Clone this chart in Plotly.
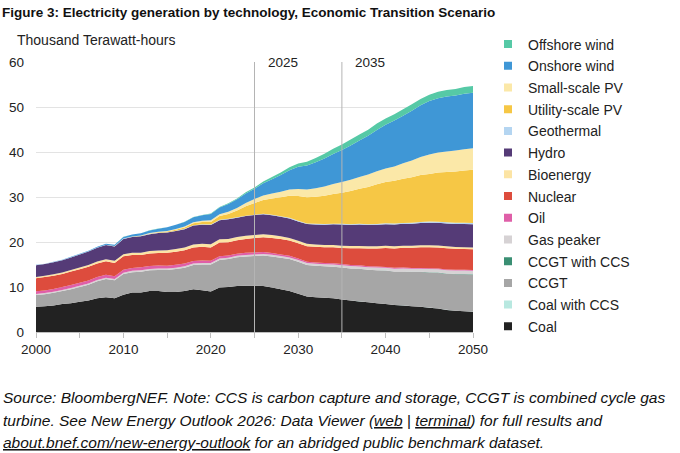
import plotly.graph_objects as go

years = list(range(2000, 2051))

coal = [5.6,5.7,5.9,6.2,6.4,6.7,7.0,7.5,7.7,7.5,
        8.3,8.8,8.8,9.1,9.1,8.9,8.9,9.1,9.5,9.3,
        9.0,9.9,10.0,10.2,10.3,10.3,10.2,9.9,9.5,9.1,
        8.5,7.9,7.7,7.6,7.5,7.2,7.0,6.8,6.6,6.4,
        6.2,6.0,5.9,5.7,5.6,5.4,5.2,4.9,4.7,4.6,
        4.5]
coal_ccs = [0,0,0,0,0,0,0,0,0,0,
            0,0,0,0,0,0,0,0,0,0,
            0,0,0,0,0,0,0,0,0,0,
            0,0,0,0,0,0.01,0.01,0.01,0.01,0.01,
            0.02,0.02,0.02,0.02,0.02,0.02,0.03,0.03,0.03,0.03,
            0.03]
ccgt = [2.6,2.7,2.8,2.9,3.1,3.3,3.5,3.8,4.1,4.0,
        4.6,4.5,4.6,4.6,4.7,4.9,5.1,5.2,5.4,5.7,
        6.0,6.1,6.2,6.4,6.5,6.6,6.8,6.9,7.0,7.1,
        7.1,7.0,7.0,7.0,7.0,7.1,7.1,7.2,7.2,7.3,
        7.4,7.4,7.5,7.6,7.7,7.8,7.9,8.0,8.1,8.2,
        8.2]
ccgt_ccs = [0,0,0,0,0,0,0,0,0,0,
            0,0,0,0,0,0,0,0,0,0,
            0,0,0,0,0,0,0,0,0,0,
            0,0.01,0.01,0.01,0.02,0.02,0.02,0.03,0.03,0.03,
            0.04,0.04,0.05,0.05,0.06,0.06,0.07,0.07,0.08,0.08,
            0.08]
gas_peaker = [0.25,0.25,0.25,0.26,0.26,0.27,0.27,0.28,0.28,0.28,
              0.29,0.29,0.3,0.3,0.3,0.3,0.3,0.31,0.31,0.31,
              0.31,0.32,0.32,0.33,0.33,0.34,0.35,0.36,0.37,0.38,
              0.4,0.42,0.44,0.46,0.48,0.5,0.52,0.54,0.56,0.58,
              0.6,0.62,0.64,0.66,0.68,0.7,0.72,0.74,0.76,0.78,
              0.8]
oil = [0.6,0.6,0.62,0.64,0.66,0.68,0.68,0.66,0.64,0.62,
       0.62,0.66,0.7,0.68,0.66,0.64,0.62,0.6,0.58,0.56,
       0.52,0.52,0.5,0.48,0.46,0.44,0.42,0.4,0.37,0.34,
       0.32,0.3,0.29,0.28,0.27,0.26,0.25,0.24,0.23,0.22,
       0.21,0.2,0.2,0.19,0.19,0.18,0.18,0.17,0.17,0.16,
       0.16]
nuclear = [2.9,2.95,2.95,2.9,3.0,3.0,3.05,3.0,3.0,2.95,
           3.0,2.85,2.7,2.75,2.8,2.85,2.9,2.95,3.0,3.05,
           2.95,3.05,2.95,3.0,3.1,3.2,3.3,3.35,3.4,3.4,
           3.4,3.45,3.5,3.5,3.55,3.6,3.7,3.8,3.9,4.0,
           4.2,4.3,4.4,4.5,4.6,4.7,4.7,4.7,4.65,4.6,
           4.6]
bioenergy = [0.3,0.3,0.32,0.33,0.35,0.37,0.39,0.41,0.44,0.46,
             0.48,0.5,0.52,0.55,0.57,0.6,0.62,0.64,0.66,0.68,
             0.7,0.72,0.72,0.72,0.72,0.7,0.68,0.65,0.62,0.58,
             0.55,0.52,0.5,0.5,0.5,0.5,0.5,0.5,0.5,0.5,
             0.5,0.48,0.47,0.46,0.45,0.44,0.43,0.42,0.41,0.4,
             0.4]
hydro = [2.6,2.6,2.65,2.7,2.8,2.9,3.0,3.05,3.15,3.2,
         3.4,3.5,3.65,3.75,3.85,3.9,4.0,4.05,4.2,4.25,
         4.3,4.25,4.35,4.25,4.35,4.4,4.4,4.4,4.35,4.35,
         4.3,4.4,4.45,4.5,4.6,4.7,4.7,4.75,4.75,4.8,
         4.8,4.85,4.85,4.9,4.95,5.0,5.05,5.1,5.1,5.15,
         5.2]
geothermal = [0.05,0.05,0.05,0.06,0.06,0.06,0.06,0.06,0.06,0.07,
              0.07,0.07,0.07,0.08,0.08,0.08,0.08,0.09,0.09,0.09,
              0.09,0.1,0.1,0.1,0.1,0.1,0.11,0.11,0.12,0.12,
              0.13,0.13,0.14,0.14,0.15,0.15,0.16,0.16,0.17,0.17,
              0.18,0.19,0.2,0.21,0.22,0.23,0.24,0.25,0.26,0.27,
              0.28]
utility_pv = [0,0,0,0,0,0,0,0,0,0.01,
              0.02,0.04,0.06,0.09,0.12,0.16,0.22,0.3,0.4,0.5,
              0.6,0.8,1.1,1.5,2.1,2.6,3.1,3.6,4.2,4.9,
              5.5,5.8,6.0,6.3,6.6,6.9,7.4,7.8,8.3,8.8,
              9.2,9.5,9.8,10.1,10.4,10.6,10.9,11.2,11.4,11.6,
              11.8]
small_pv = [0,0,0,0,0,0,0,0,0.01,0.01,
            0.02,0.04,0.06,0.08,0.1,0.13,0.17,0.21,0.26,0.3,
            0.35,0.42,0.5,0.6,0.72,0.85,0.98,1.1,1.25,1.4,
            1.6,1.75,1.9,2.05,2.2,2.4,2.5,2.6,2.75,2.9,
            3.0,3.2,3.45,3.7,4.0,4.3,4.45,4.55,4.65,4.75,
            4.8]
onshore_wind = [0.03,0.04,0.05,0.06,0.08,0.1,0.13,0.17,0.21,0.27,
                0.33,0.42,0.5,0.6,0.68,0.8,0.9,1.0,1.1,1.2,
                1.4,1.5,1.7,1.9,2.1,2.3,2.7,3.2,3.7,4.3,
                4.9,5.3,5.8,6.2,6.7,7.1,7.6,8.1,8.6,9.2,
                9.7,10.2,10.6,11.1,11.5,11.9,12.1,12.2,12.25,12.3,
                12.3]
offshore_wind = [0,0,0,0,0,0,0,0,0,0,
                 0.01,0.01,0.01,0.02,0.02,0.03,0.04,0.05,0.06,0.07,
                 0.09,0.12,0.15,0.2,0.25,0.3,0.38,0.46,0.55,0.65,
                 0.75,0.85,0.95,1.05,1.15,1.25,1.3,1.35,1.35,1.4,
                 1.4,1.4,1.4,1.4,1.4,1.4,1.4,1.45,1.45,1.5,
                 1.5]

# bottom to top
series = [
    ("Coal", coal, "#222222"),
    ("Coal with CCS", coal_ccs, "#b8e8e0"),
    ("CCGT", ccgt, "#a6a6a6"),
    ("CCGT with CCS", ccgt_ccs, "#3a8f73"),
    ("Gas peaker", gas_peaker, "#d6d2d4"),
    ("Oil", oil, "#df5fa8"),
    ("Nuclear", nuclear, "#dd4c3d"),
    ("Bioenergy", bioenergy, "#fce4a4"),
    ("Hydro", hydro, "#553b77"),
    ("Geothermal", geothermal, "#b4d5f1"),
    ("Utility-scale PV", utility_pv, "#f6c745"),
    ("Small-scale PV", small_pv, "#fbe8a8"),
    ("Onshore wind", onshore_wind, "#3f97d6"),
    ("Offshore wind", offshore_wind, "#56c9a6"),
]

markers = [2025, 2035]
x_ticks = [2000, 2010, 2020, 2030, 2040, 2050]
y_ticks = [0, 10, 20, 30, 40, 50, 60]

FONT = "Arial, Liberation Sans, sans-serif"

# plot area in pixels
L, R, T, B = 36, 473, 62, 332
W, H = R - L, B - T
def px(x):
    return (x - L) / W
def py(y):
    return (B - y) / H

fig = go.Figure()
for name, vals, col in series:
    fig.add_trace(go.Scatter(
        x=years, y=vals, name=name, stackgroup="one", mode="none",
        fillcolor=col, line=dict(width=0), showlegend=False,
        legendgroup=name, hoverinfo="x+y+name"))

# legend entries (square swatches), top to bottom, split over two legend boxes
for i, (name, vals, col) in enumerate(reversed(series)):
    fig.add_trace(go.Scatter(
        x=[None], y=[None], name=name, mode="markers",
        marker=dict(symbol="square", size=8, color=col),
        legendgroup=name, showlegend=True,
        legend="legend" if i < 7 else "legend2"))

for m in markers:
    fig.add_shape(type="line", x0=m, x1=m, y0=0, y1=60, xref="x", yref="y",
                  line=dict(color="#b4b4b4", width=1), layer="above")
    fig.add_annotation(x=m, y=60, xref="x", yref="y", text=str(m),
                       showarrow=False, xanchor="left", yanchor="middle",
                       xshift=11, font=dict(size=13.5, color="#222"))

fig.add_annotation(text="Thousand Terawatt-hours", xref="paper", yref="paper",
                   x=px(15), y=py(40), xanchor="left", yanchor="middle",
                   showarrow=False, font=dict(size=14, color="#222"))

foot = [
    "<i>Source: BloombergNEF. Note: CCS is carbon capture and storage, CCGT is combined cycle gas</i>",
    "<i>turbine. See New Energy Outlook 2026: Data Viewer (<u>web</u> | <u>terminal</u>) for full results and</i>",
    "<i><u>about.bnef.com/new-energy-outlook</u> for an abridged public benchmark dataset.</i>",
]
foot_y = [397, 420, 443]
for t, yy in zip(foot, foot_y):
    fig.add_annotation(text=t, xref="paper", yref="paper",
                       x=px(1), y=py(yy), xanchor="left", yanchor="middle",
                       showarrow=False, font=dict(size=15.5, color="#111"))

legend_common = dict(xref="container", yref="container", xanchor="left", yanchor="top",
                     traceorder="grouped", tracegroupgap=0.5,
                     font=dict(size=14, color="#222"),
                     bgcolor="rgba(0,0,0,0)", itemclick=False, itemdoubleclick=False)

fig.update_layout(
    width=680, height=453,
    margin=dict(l=L, r=680 - R, t=T, b=453 - B, autoexpand=False),
    paper_bgcolor="white", plot_bgcolor="white",
    font=dict(family=FONT, size=13.5, color="#222"),
    title=dict(text="<b>Figure 3: Electricity generation by technology, Economic Transition Scenario</b>",
               x=2/680, xref="container", xanchor="left",
               y=1-12/453, yref="container", yanchor="middle",
               font=dict(size=13.5, color="#111")),
    showlegend=True,
    legend=dict(x=488/680, y=1-28.5/453, **legend_common),
    legend2=dict(x=488/680, y=1-180.5/453, **legend_common),
    xaxis=dict(range=[2000, 2050], tickvals=x_ticks, ticktext=[str(v) for v in x_ticks],
               showgrid=False, zeroline=False, showline=True, linecolor="#bfbfbf",
               ticks="outside", ticklen=5, tickcolor="#bfbfbf",
               minor=dict(dtick=5, ticks="outside", ticklen=5, tickcolor="#bfbfbf"),
               tickfont=dict(size=13.5)),
    yaxis=dict(range=[0, 60], tickvals=y_ticks, showgrid=True, gridcolor="#e3e3e3",
               zeroline=False, showline=False, ticks="", tickfont=dict(size=13.5),
               ticklabelstandoff=11),
)

fig.write_html("out.html", config={"displayModeBar": False},
               post_script="document.body.style.margin='0';")
